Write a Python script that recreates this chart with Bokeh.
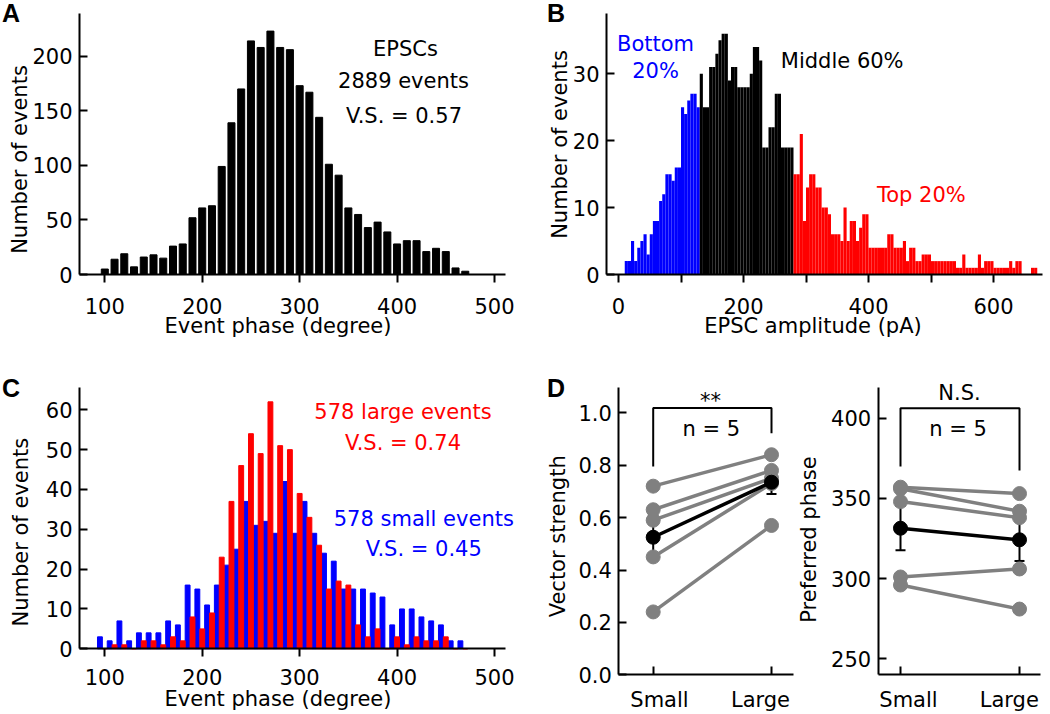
import math
import numpy as np
from bokeh.plotting import figure
from bokeh.layouts import column, row
from bokeh.models import (Label, FixedTicker, NumeralTickFormatter, Range1d, Whisker,
                          ColumnDataSource, TeeHead, LinearAxis, CustomJSTickFormatter)
from bokeh.embed import file_html
from bokeh.resources import INLINE

FONT = "DejaVu Sans"
FS = "21px"
LETTER_FONT = "Liberation Sans"
LETTER_FS = "25px"
BLUE = "#0000FF"
RED = "#FF0000"
GREY = "#808080"
BASELINE_FIX = 8  # Label 'alphabetic' baseline sits this many px below the requested point

# ---------------- data ----------------
# Panel A: phase histogram of all EPSCs (10-degree bins, bin centres)
phase_centers = list(range(100, 480, 10))
epsc_counts = [5, 14, 19, 7, 16, 18, 15, 26, 28, 52, 61, 63, 99, 139, 170, 214, 208, 223, 208, 206,
               173, 167, 144, 101, 91, 61, 55, 43, 48, 39, 28, 31, 31, 21, 24, 21, 6, 3]

# Panel B: EPSC amplitude histogram (5 pA bins; first lower edge of each group)
amp_bin = 5
bottom_start = 10
bottom_counts = [2, 2, 5, 2, 4, 5, 6, 3, 6, 8, 8, 11, 12, 15, 15, 14, 16, 16, 25, 24, 26, 27, 27, 25]
middle_start = 130
middle_counts = [30, 25, 25, 31, 31, 33, 35, 36, 36, 29, 31, 31, 28, 28, 28, 28, 30, 34, 34, 32,
                 19, 19, 22, 22, 27, 27, 19, 19, 19, 19]
top_start = 280
top_counts = [15, 15, 21, 8, 13, 15, 15, 13, 13, 10, 10, 9, 6, 6, 6, 5, 10, 5, 8, 8,
              5, 7, 9, 9, 4, 4, 4, 4, 4, 4, 6, 6, 4, 4, 4, 5, 2, 4, 4, 2,
              2, 3, 3, 3, 2, 2, 2, 2, 2, 2, 2, 2, 1, 1, 3, 1, 1, 1, 1, 3,
              1, 2, 2, 2, 1, 1, 1, 1, 1, 2, 1, 2, 2, 0, 0, 0, 1, 1, 0, 0]

# Panel C: phase histograms of large (red) and small (blue) events
c_phase = list(range(100, 480, 10))
large_counts = [0, 1, 1, 0, 2, 2, 1, 3, 2, 8, 5, 9, 23, 37, 46, 54, 49, 62, 51, 50,
                39, 33, 26, 15, 17, 16, 6, 3, 5, 0, 3, 1, 3, 2, 2, 3, 0, 0]
small_counts = [3, 2, 7, 2, 4, 4, 4, 7, 6, 16, 15, 11, 16, 21, 25, 37, 31, 32, 29, 42,
                29, 37, 29, 24, 22, 15, 15, 15, 14, 13, 6, 10, 10, 8, 7, 6, 2, 2]

# Panel D: paired cells (Small, Large)
conds = ["Small", "Large"]
vs_small = [0.72, 0.63, 0.59, 0.45, 0.24]
vs_large = [0.84, 0.78, 0.75, 0.73, 0.57]
vs_mean = [0.525, 0.735]
vs_sem = [0.085, 0.045]
vs_bracket = [0.795, 1.018, 0.922]
ph_small = [357, 356, 348, 301, 296]
ph_large = [353, 342, 338, 306, 281]
ph_mean = [331.4, 324.2]
ph_sem = [13.8, 13.2]
ph_bracket = [369.9, 406.2, 367.4]


# ---------------- helpers ----------------
def lin(v1, p1, v2, p2):
    return lambda px: v1 + (px - p1) * (v2 - v1) / (p2 - p1)


def style_axis(ax):
    ax.axis_line_width = 2
    ax.axis_line_color = "black"
    ax.major_tick_line_width = 2
    ax.major_tick_line_color = "black"
    ax.minor_tick_line_width = 2
    ax.minor_tick_line_color = "black"
    ax.minor_tick_in = 0
    ax.minor_tick_out = 0
    ax.major_label_text_font = FONT
    ax.major_label_text_font_size = FS
    ax.major_label_text_color = "black"


class Panel:
    """A figure whose frame fills its whole canvas; pixel->data maps from calibration."""

    def __init__(self, canvas, xcal, ycal):
        l, t, r, b = canvas
        self.fx = lin(*xcal)
        self.fy = lin(*ycal)
        self.p = figure(width=int(round(r - l)), height=int(round(b - t)),
                        x_range=Range1d(self.fx(l), self.fx(r)),
                        y_range=Range1d(self.fy(b), self.fy(t)),
                        x_axis_location=None, y_axis_location=None,
                        output_backend="svg", toolbar_location=None,
                        min_border_left=0, min_border_right=0,
                        min_border_top=0, min_border_bottom=0)
        p = self.p
        p.outline_line_color = None
        p.grid.visible = False
        p.background_fill_color = "white"
        p.border_fill_color = "white"

    def y_axis(self, xpx, ypx, yticks, y_std=7):
        fx, fy = self.fx, self.fy
        self.xb = (fx(xpx[0]), fx(xpx[1]))
        self.yb = (fy(ypx[1]), fy(ypx[0]))
        ya = LinearAxis(fixed_location=self.xb[0], bounds=self.yb, ticker=FixedTicker(ticks=yticks))
        style_axis(ya)
        ya.major_tick_out, ya.major_tick_in = 0, 8
        ya.major_label_standoff = y_std
        self.p.add_layout(ya, "left")
        self.ya = ya

    def x_axis_hist(self, xticks, x_std, xminor=None):
        xa = LinearAxis(fixed_location=self.yb[0], bounds=self.xb,
                        ticker=FixedTicker(ticks=xticks, minor_ticks=xminor or []))
        style_axis(xa)
        xa.major_tick_out, xa.major_tick_in = 8, 0
        xa.minor_tick_out = 8
        xa.major_label_standoff = x_std
        self.p.add_layout(xa, "below")

    def x_axis_cond(self, label_px, names, std):
        # inward tick marks at the two conditions; labels where the figure prints them
        xa = LinearAxis(fixed_location=self.yb[0], bounds=self.xb,
                        ticker=FixedTicker(ticks=[self.fx(v) for v in label_px], minor_ticks=[0, 1]),
                        formatter=CustomJSTickFormatter(args=dict(names=names),
                                                        code="return tick < 0.5 ? names[0] : names[1]"))
        style_axis(xa)
        xa.major_tick_out, xa.major_tick_in = 0, 0
        xa.minor_tick_in, xa.minor_tick_out = 8, 0
        xa.major_label_standoff = std
        self.p.add_layout(xa, "below")

    def text(self, xpx, ypx, txt, color="black", align="center", letter=False, vertical=False):
        if vertical:
            x, y, angle = self.fx(xpx - BASELINE_FIX), self.fy(ypx), math.pi / 2
        else:
            x, y, angle = self.fx(xpx), self.fy(ypx - BASELINE_FIX), 0
        self.p.add_layout(Label(x=x, y=y, text=txt, angle=angle,
                                text_color=color, text_align=align, text_baseline="alphabetic",
                                text_font=LETTER_FONT if letter else FONT,
                                text_font_size=LETTER_FS if letter else FS,
                                text_font_style="bold" if letter else "normal"))


# ---------------- Panel A ----------------
A = Panel((0, 0, 540, 345), (100, 104.3, 500, 494.0), (0, 274.0, 200, 55.7))
A.p.vbar(x=phase_centers, top=epsc_counts, width=7.2, color="black")
A.y_axis((79, 505), (13, 274), [0, 50, 100, 150, 200])
A.x_axis_hist([100, 200, 300, 400, 500], x_std=15)
A.text(277.5, 333.3, "Event phase (degree)")
A.text(27, 159, "Number of events", vertical=True)
A.text(405, 56, "EPSCs")
A.text(403, 88, "2889 events")
A.text(403.5, 123, "V.S. = 0.57")
A.text(1.5, 20, "A", align="left", letter=True)

# ---------------- Panel B ----------------
B = Panel((540, 0, 1048, 345), (0, 618.0, 600, 993.0), (0, 274.0, 30, 73.3))
for start, counts, col in [(bottom_start, bottom_counts, BLUE),
                           (middle_start, middle_counts, "black"),
                           (top_start, top_counts, RED)]:
    left = start + amp_bin * np.arange(len(counts))
    B.p.quad(left=left, right=left + amp_bin, bottom=0, top=counts,
             fill_color=col, line_color=None)
B.y_axis((606, 1042), (13, 274), [0, 10, 20, 30])
B.x_axis_hist([0, 200, 400, 600], x_std=15, xminor=[100, 300, 500])
B.text(812.5, 333.3, "EPSC amplitude (pA)")
B.text(567, 144, "Number of events", vertical=True)
B.text(655, 51.7, "Bottom", color=BLUE)
B.text(655, 78, "20%", color=BLUE)
B.text(841.7, 68, "Middle 60%")
B.text(920.8, 202, "Top 20%", color=RED)
B.text(546.5, 20, "B", align="left", letter=True)

# ---------------- Panel C ----------------
C = Panel((0, 345, 540, 714), (100, 104.3, 500, 494.0), (0, 648.3, 60, 409.3))
C.p.vbar(x=[c - 5 for c in c_phase], top=small_counts, width=5, color=BLUE)
C.p.vbar(x=c_phase, top=large_counts, width=5, color=RED)
C.y_axis((79, 505), (386.7, 648.3), [0, 10, 20, 30, 40, 50, 60])
C.x_axis_hist([100, 200, 300, 400, 500], x_std=12)
C.text(277.5, 706.5, "Event phase (degree)")
C.text(28, 531.7, "Number of events", vertical=True)
C.text(402.5, 419, "578 large events", color=RED)
C.text(402.5, 450, "V.S. = 0.74", color=RED)
C.text(423.3, 526.7, "578 small events", color=BLUE)
C.text(423.3, 556.7, "V.S. = 0.45", color=BLUE)
C.text(1.5, 395, "C", align="left", letter=True)


# ---------------- Panel D ----------------
def paired(P, small, large, mean, sem, bracket):
    p = P.p
    for s, l in zip(small, large):
        p.line([0, 1], [s, l], line_color=GREY, line_width=3.5)
    p.scatter([0] * len(small), small, size=14, color=GREY)
    p.scatter([1] * len(large), large, size=14, color=GREY)
    p.line([0, 1], mean, line_color="black", line_width=3.5)
    src = ColumnDataSource(dict(x=[0, 1], lower=[m - e for m, e in zip(mean, sem)],
                                upper=[m + e for m, e in zip(mean, sem)]))
    p.add_layout(Whisker(base="x", lower="lower", upper="upper", source=src,
                         line_color="black", line_width=2,
                         lower_head=TeeHead(size=10, line_width=2, line_color="black"),
                         upper_head=TeeHead(size=10, line_width=2, line_color="black")))
    p.scatter([0, 1], mean, size=14, color="black")
    p.line([0, 0, 1, 1], [bracket[0], bracket[1], bracket[1], bracket[2]],
           line_color="black", line_width=2)


DL = Panel((540, 345, 795, 714), (0, 652.7, 1, 771.0), (0, 674.3, 1, 412.3))
paired(DL, vs_small, vs_large, vs_mean, vs_sem, vs_bracket)
DL.y_axis((618.3, 793.3), (386.7, 674.3), [0, 0.2, 0.4, 0.6, 0.8, 1.0])
DL.ya.formatter = NumeralTickFormatter(format="0.0")
DL.x_axis_cond((659, 760), conds, 13)
DL.text(565, 535.8, "Vector strength", vertical=True)
DL.text(710, 408, "**")
DL.text(710.8, 436.7, "n = 5")
DL.text(546.5, 395, "D", align="left", letter=True)

DR = Panel((795, 345, 1048, 714), (0, 900.0, 1, 1019.0), (400, 417.7, 250, 658.3))
paired(DR, ph_small, ph_large, ph_mean, ph_sem, ph_bracket)
DR.y_axis((877.7, 1040), (386.7, 674.3), [250, 300, 350, 400])
DR.x_axis_cond((908, 1008.8), conds, 13)
DR.text(816.7, 539, "Preferred phase", vertical=True)
DR.text(959, 400.7, "N.S.")
DR.text(957.5, 436.7, "n = 5")

layout = column(row(A.p, B.p), row(C.p, DL.p, DR.p))
open("out.html", "w").write(file_html(layout, INLINE))
